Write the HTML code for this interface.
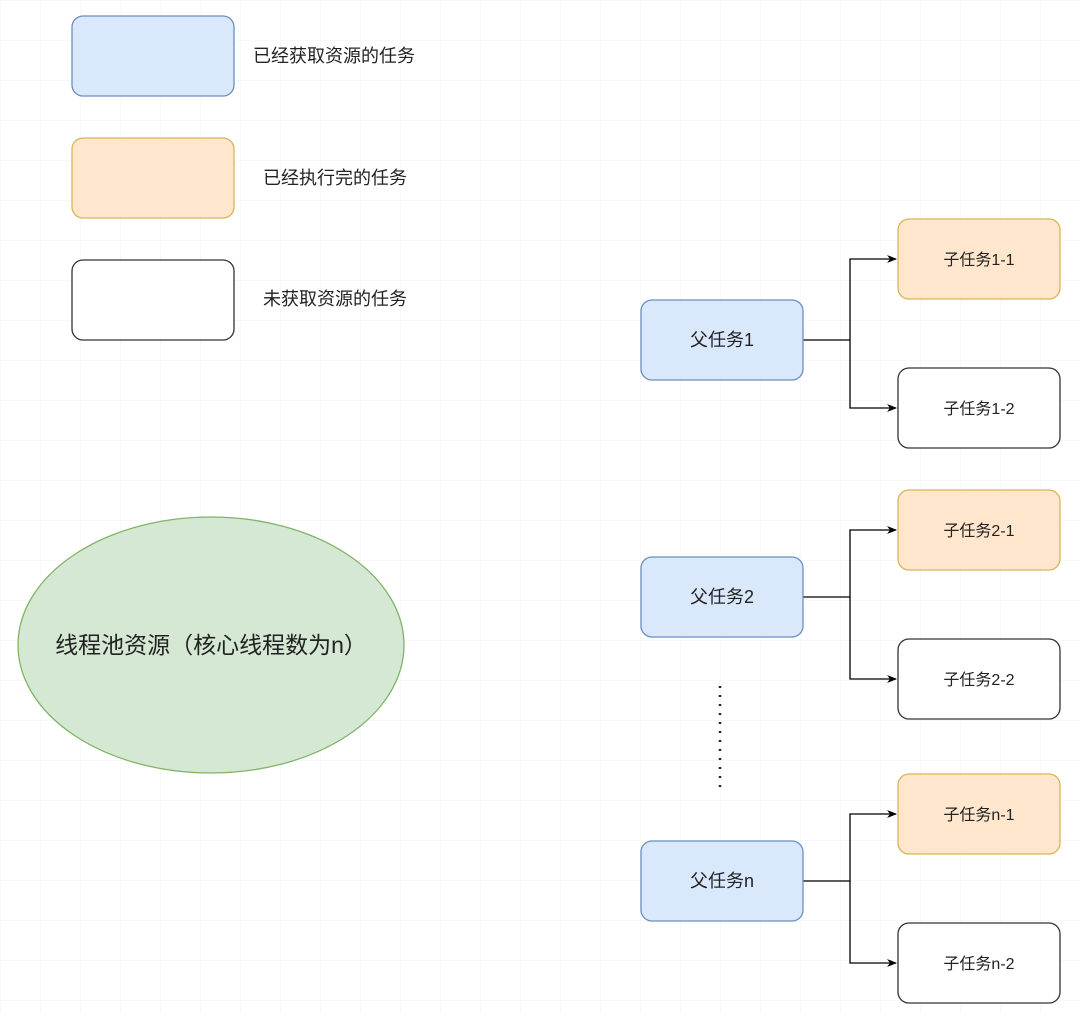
<!DOCTYPE html>
<html><head><meta charset="utf-8"><style>
body{margin:0;background:#fff}
text{font-family:"Liberation Sans","Noto Sans CJK SC",sans-serif;fill:#222}
</style></head><body>
<svg width="1080" height="1014" xmlns="http://www.w3.org/2000/svg">
<defs>
<pattern id="g" width="40" height="40" patternUnits="userSpaceOnUse"><path d="M40 0H0V40" fill="none" stroke="#f2f2f2" stroke-width="1"/></pattern>
<marker id="a" markerWidth="10" markerHeight="10" refX="9" refY="5" orient="auto" markerUnits="userSpaceOnUse"><path d="M0,1 L10,5 L0,9 L3,5z" fill="#000"/></marker>
</defs>
<rect width="1080" height="1014" fill="url(#g)"/>
<g stroke-width="1.3">
<rect x="72" y="16" width="162" height="80" rx="11" fill="#dae8fc" stroke="#6c8ebf"/>
<rect x="72" y="138" width="162" height="80" rx="11" fill="#ffe6cc" stroke="#d6b656"/>
<rect x="72" y="260" width="162" height="80" rx="11" fill="#fff" stroke="#333"/>
</g>
<g font-size="18">
<text x="253" y="62">已经获取资源的任务</text>
<text x="263" y="184">已经执行完的任务</text>
<text x="263" y="305">未获取资源的任务</text>
</g>
<ellipse cx="211" cy="645" rx="193" ry="128" fill="#d5e8d4" stroke="#82b366" stroke-width="1.3"/>
<text x="211" y="653" font-size="23" text-anchor="middle">线程池资源（核心线程数为n）</text>
<line x1="720" y1="686" x2="720" y2="790" stroke="#222" stroke-width="2.5" stroke-dasharray="2,7"/>
<g fill="none" stroke="#000" stroke-width="1.3">
<path d="M803 340H850V259H896" marker-end="url(#a)"/><path d="M850 340V408H896" marker-end="url(#a)"/>
<path d="M803 597H850V530H896" marker-end="url(#a)"/><path d="M850 597V679H896" marker-end="url(#a)"/>
<path d="M803 881H850V814H896" marker-end="url(#a)"/><path d="M850 881V963H896" marker-end="url(#a)"/>
</g>
<g stroke-width="1.3">
<rect x="641" y="300" width="162" height="80" rx="11" fill="#dae8fc" stroke="#6c8ebf"/>
<rect x="641" y="557" width="162" height="80" rx="11" fill="#dae8fc" stroke="#6c8ebf"/>
<rect x="641" y="841" width="162" height="80" rx="11" fill="#dae8fc" stroke="#6c8ebf"/>
<rect x="898" y="219" width="162" height="80" rx="11" fill="#ffe6cc" stroke="#d6b656"/>
<rect x="898" y="368" width="162" height="80" rx="11" fill="#fff" stroke="#333"/>
<rect x="898" y="490" width="162" height="80" rx="11" fill="#ffe6cc" stroke="#d6b656"/>
<rect x="898" y="639" width="162" height="80" rx="11" fill="#fff" stroke="#333"/>
<rect x="898" y="774" width="162" height="80" rx="11" fill="#ffe6cc" stroke="#d6b656"/>
<rect x="898" y="923" width="162" height="80" rx="11" fill="#fff" stroke="#333"/>
</g>
<g font-size="18" text-anchor="middle">
<text x="722" y="346">父任务1</text>
<text x="722" y="603">父任务2</text>
<text x="722" y="887">父任务n</text>
</g>
<g font-size="16" text-anchor="middle">
<text x="979" y="265">子任务1-1</text>
<text x="979" y="414">子任务1-2</text>
<text x="979" y="536">子任务2-1</text>
<text x="979" y="685">子任务2-2</text>
<text x="979" y="820">子任务n-1</text>
<text x="979" y="969">子任务n-2</text>
</g>
</svg>
</body></html>
